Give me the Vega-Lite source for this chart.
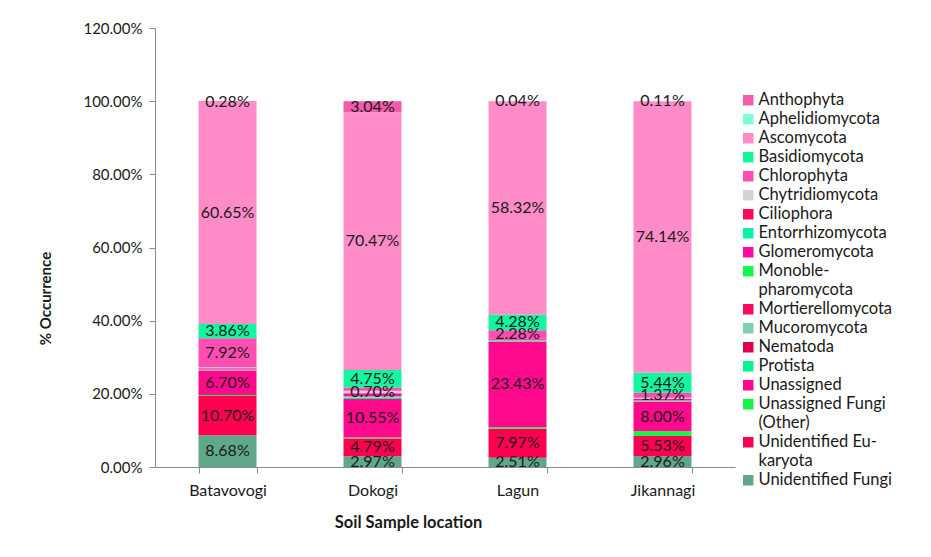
{
  "$schema": "https://vega.github.io/schema/vega-lite/v6.json",
  "width": 580,
  "height": 439,
  "autosize": "none",
  "padding": {"left": 155, "top": 28, "right": 196, "bottom": 90},
  "background": "white",
  "config": {
    "view": {"stroke": null},
    "font": "Lato",
    "axis": {"labelFont": "Lato", "titleFont": "Lato", "labelColor": "#1a1a1a", "titleColor": "#1a1a1a"},
    "legend": {"labelFont": "Lato", "labelColor": "#1a1a1a"}
  },
  "data": {
    "values": [
      {"site": "Batavovogi", "taxon": "Unidentified Fungi", "p": 0.0868, "lbl": true},
      {"site": "Batavovogi", "taxon": "Unidentified Eukaryota", "p": 0.1070, "lbl": true},
      {"site": "Batavovogi", "taxon": "Unassigned Fungi (Other)", "p": 0.0030, "lbl": false},
      {"site": "Batavovogi", "taxon": "Unassigned", "p": 0.0670, "lbl": true},
      {"site": "Batavovogi", "taxon": "Mucoromycota", "p": 0.0030, "lbl": false},
      {"site": "Batavovogi", "taxon": "Glomeromycota", "p": 0.0030, "lbl": false},
      {"site": "Batavovogi", "taxon": "Chytridiomycota", "p": 0.0031, "lbl": false},
      {"site": "Batavovogi", "taxon": "Chlorophyta", "p": 0.0792, "lbl": true},
      {"site": "Batavovogi", "taxon": "Basidiomycota", "p": 0.0386, "lbl": true},
      {"site": "Batavovogi", "taxon": "Ascomycota", "p": 0.6065, "lbl": true},
      {"site": "Batavovogi", "taxon": "Anthophyta", "p": 0.0028, "lbl": true},

      {"site": "Dokogi", "taxon": "Unidentified Fungi", "p": 0.0297, "lbl": true},
      {"site": "Dokogi", "taxon": "Unidentified Eukaryota", "p": 0.0479, "lbl": true},
      {"site": "Dokogi", "taxon": "Unassigned Fungi (Other)", "p": 0.0030, "lbl": false},
      {"site": "Dokogi", "taxon": "Unassigned", "p": 0.1055, "lbl": true},
      {"site": "Dokogi", "taxon": "Protista", "p": 0.0033, "lbl": false},
      {"site": "Dokogi", "taxon": "Mucoromycota", "p": 0.0040, "lbl": false},
      {"site": "Dokogi", "taxon": "Glomeromycota", "p": 0.0080, "lbl": false},
      {"site": "Dokogi", "taxon": "Chytridiomycota", "p": 0.0070, "lbl": true},
      {"site": "Dokogi", "taxon": "Chlorophyta", "p": 0.0090, "lbl": false},
      {"site": "Dokogi", "taxon": "Basidiomycota", "p": 0.0475, "lbl": true},
      {"site": "Dokogi", "taxon": "Ascomycota", "p": 0.7047, "lbl": true},
      {"site": "Dokogi", "taxon": "Anthophyta", "p": 0.0304, "lbl": true},

      {"site": "Lagun", "taxon": "Unidentified Fungi", "p": 0.0251, "lbl": true},
      {"site": "Lagun", "taxon": "Unidentified Eukaryota", "p": 0.0797, "lbl": true},
      {"site": "Lagun", "taxon": "Unassigned Fungi (Other)", "p": 0.0037, "lbl": false},
      {"site": "Lagun", "taxon": "Unassigned", "p": 0.2343, "lbl": true},
      {"site": "Lagun", "taxon": "Mucoromycota", "p": 0.0050, "lbl": false},
      {"site": "Lagun", "taxon": "Glomeromycota", "p": 0.0030, "lbl": false},
      {"site": "Lagun", "taxon": "Chlorophyta", "p": 0.0228, "lbl": true},
      {"site": "Lagun", "taxon": "Basidiomycota", "p": 0.0428, "lbl": true},
      {"site": "Lagun", "taxon": "Ascomycota", "p": 0.5832, "lbl": true},
      {"site": "Lagun", "taxon": "Anthophyta", "p": 0.0004, "lbl": true},

      {"site": "Jikannagi", "taxon": "Unidentified Fungi", "p": 0.0296, "lbl": true},
      {"site": "Jikannagi", "taxon": "Unidentified Eukaryota", "p": 0.0553, "lbl": true},
      {"site": "Jikannagi", "taxon": "Unassigned Fungi (Other)", "p": 0.0130, "lbl": false},
      {"site": "Jikannagi", "taxon": "Unassigned", "p": 0.0800, "lbl": true},
      {"site": "Jikannagi", "taxon": "Mucoromycota", "p": 0.0040, "lbl": false},
      {"site": "Jikannagi", "taxon": "Glomeromycota", "p": 0.0040, "lbl": false},
      {"site": "Jikannagi", "taxon": "Chytridiomycota", "p": 0.0035, "lbl": false},
      {"site": "Jikannagi", "taxon": "Chlorophyta", "p": 0.0137, "lbl": true},
      {"site": "Jikannagi", "taxon": "Basidiomycota", "p": 0.0544, "lbl": true},
      {"site": "Jikannagi", "taxon": "Ascomycota", "p": 0.7414, "lbl": true},
      {"site": "Jikannagi", "taxon": "Anthophyta", "p": 0.0011, "lbl": true}
    ]
  },
  "transform": [
    {"stack": "p", "groupby": ["site"], "sort": [{"field": "taxon", "order": "descending"}], "as": ["p0", "p1"]}
  ],
  "encoding": {
    "x": {
      "field": "site",
      "type": "nominal",
      "sort": ["Batavovogi", "Dokogi", "Lagun", "Jikannagi"],
      "scale": {"paddingInner": 0.6, "paddingOuter": 0.3},
      "axis": {
        "title": "Soil Sample location",
        "labelAngle": 0,
        "labelFontSize": 16,
        "labelPadding": 9,
        "tickBand": "extent",
        "tickSize": 6,
        "tickColor": "#8a8a8a",
        "domainColor": "#8a8a8a",
        "titleFontSize": 16.5,
        "titleFontWeight": "bold",
        "titleX": 253,
        "titleY": 55,
        "titleBaseline": "middle"
      }
    }
  },
  "layer": [
    {
      "mark": {"type": "bar"},
      "encoding": {
        "y": {
          "field": "p0",
          "type": "quantitative",
          "scale": {"domain": [0, 1.2]},
          "axis": {
            "title": "% Occurrence",
            "values": [0, 0.2, 0.4, 0.6, 0.8, 1.0, 1.2],
            "format": ".2%",
            "grid": false,
            "labelFontSize": 15,
            "labelPadding": 7,
            "tickSize": 6,
            "tickColor": "#8a8a8a",
            "domainColor": "#8a8a8a",
            "titleFontSize": 15,
            "titleFontWeight": "bold",
            "titleX": -110,
            "titleY": 270,
            "titleBaseline": "middle"
          }
        },
        "y2": {"field": "p1"},
        "color": {
          "field": "taxon",
          "type": "nominal",
          "scale": {
            "domain": ["Anthophyta", "Aphelidiomycota", "Ascomycota", "Basidiomycota", "Chlorophyta", "Chytridiomycota", "Ciliophora", "Entorrhizomycota", "Glomeromycota", "Monoblepharomycota", "Mortierellomycota", "Mucoromycota", "Nematoda", "Protista", "Unassigned", "Unassigned Fungi (Other)", "Unidentified Eukaryota", "Unidentified Fungi"],
            "range": ["#f25cac", "#7dffd6", "#ff8cc8", "#14f5a0", "#ff4db2", "#d3d3d3", "#ff0a5a", "#00f5aa", "#ff0aa0", "#14f550", "#ff0a60", "#7fcfb0", "#e0004e", "#00f592", "#ff0a8c", "#14f545", "#ff0050", "#5fa88c"]
          },
          "legend": {
            "orient": "none",
            "legendX": 585,
            "legendY": 64,
            "title": null,
            "padding": 0,
            "symbolType": "square",
            "symbolSize": 110,
            "symbolStrokeWidth": 0,
            "labelFontSize": 16.5,
            "labelOffset": 2,
            "rowPadding": 2,
            "labelLimit": 200,
            "labelExpr": "datum.label == 'Monoblepharomycota' ? ['Monoble-', 'pharomycota'] : datum.label == 'Unassigned Fungi (Other)' ? ['Unassigned Fungi', '(Other)'] : datum.label == 'Unidentified Eukaryota' ? ['Unidentified Eu-', 'karyota'] : datum.label"
          }
        }
      }
    },
    {
      "transform": [
        {"filter": "datum.lbl"},
        {"calculate": "(datum.p0 + datum.p1) / 2", "as": "pmid"}
      ],
      "mark": {"type": "text", "fontSize": 16, "color": "#1a1a1a", "baseline": "middle"},
      "encoding": {
        "y": {"field": "pmid", "type": "quantitative"},
        "text": {"field": "p", "format": ".2%"}
      }
    }
  ]
}
